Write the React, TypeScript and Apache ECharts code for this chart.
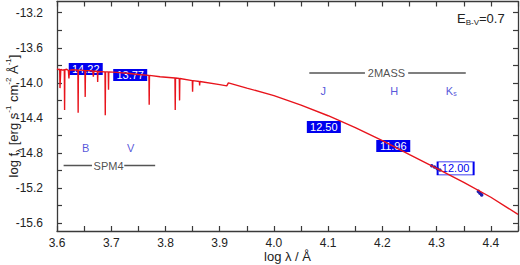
import React, { useEffect, useRef } from "react";
import * as echarts from "echarts";

// Model spectrum (log lambda, log f_lambda), incl. absorption lines
const specLambda = [
  3.6, 3.603, 3.605, 3.6055, 3.607, 3.61, 3.6135, 3.614, 3.6145, 3.618, 3.621, 3.622, 3.623, 3.63,
  3.6385, 3.639, 3.6395, 3.645, 3.6515, 3.652, 3.6525, 3.66, 3.666, 3.667, 3.668, 3.6745, 3.675,
  3.6755, 3.6885, 3.689, 3.6895, 3.6945, 3.695, 3.6955, 3.71, 3.73, 3.75, 3.7695, 3.77, 3.7705,
  3.79, 3.8175, 3.818, 3.8185, 3.8255, 3.826, 3.8265, 3.8495, 3.85, 3.8505, 3.8625, 3.863, 3.8635,
  3.9, 3.913, 3.916, 3.95, 4.0, 4.05, 4.1, 4.15, 4.2, 4.25, 4.3, 4.35, 4.4, 4.45,
];
const specFlux = [
  -13.84, -13.85, -13.845, -14.06, -13.845, -13.855, -13.85, -14.31, -13.85, -13.845, -13.86, -13.95,
  -13.855, -13.85, -13.855, -14.34, -13.855, -13.855, -13.86, -14.16, -13.86, -13.86, -13.865, -13.93,
  -13.865, -13.87, -13.99, -13.87, -13.875, -14.37, -13.875, -13.875, -14.08, -13.875, -13.88, -13.89,
  -13.905, -13.915, -14.25, -13.915, -13.93, -13.945, -14.31, -13.945, -13.95, -14.2, -13.95, -13.975,
  -14.1, -13.975, -13.985, -14.03, -13.985, -14.02, -14.035, -14.0, -14.06, -14.145, -14.255, -14.375,
  -14.51, -14.66, -14.82, -14.975, -15.135, -15.305, -15.5,
];

// Photometric magnitude boxes
const boxLambda = [3.653, 3.735, 4.092, 4.22];
const boxFlux = [-13.842, -13.91, -14.503, -14.719];
const boxText = ["14.22", "13.77", "12.50", "11.96"];
const openBoxLambda = [4.335];
const openBoxFlux = [-14.975];
const openBoxText = ["12.00"];

// Observed points (blue)
const obsLambda = [4.291, 4.296, 4.301, 4.306, 4.377, 4.38, 4.383];
const obsFlux = [-14.945, -14.96, -14.978, -14.995, -15.238, -15.258, -15.278];

// Filter names
const filterNames = ["B", "V", "J", "H", "{n|K}{s|s}"];
const filterLambda = [3.653, 3.736, 4.091, 4.222, 4.327];
const filterFlux = [-14.745, -14.745, -14.089, -14.089, -14.089];

// Survey ranges
const spmLeft = [3.6122, 3.6645];
const spmRight = [3.724, 3.781];
const spmLevel = -14.944;
const spmLabelLambda = 3.695;
const massLeft = [4.0652, 4.1678];
const massRight = [4.2475, 4.3537];
const massLevel = -13.888;
const massLabelLambda = 4.2075;

const xTicks = [3.6, 3.65, 3.7, 3.75, 3.8, 3.85, 3.9, 3.95, 4.0, 4.05, 4.1, 4.15, 4.2, 4.25, 4.3, 4.35, 4.4, 4.45];
const xLabels = [3.6, 3.7, 3.8, 3.9, 4.0, 4.1, 4.2, 4.3, 4.4];
const yTicks = [-15.6, -15.4, -15.2, -15.0, -14.8, -14.6, -14.4, -14.2, -14.0, -13.8, -13.6, -13.4, -13.2];
const yLabels = [-15.6, -15.2, -14.8, -14.4, -14.0, -13.6, -13.2];

const FONT = "Liberation Sans";
const AXC = "#3a3a3a";
const RED = "#e8141c";
const BLUE = "#0000ee";
const LBLUE = "#2a2ad0";

export default function App() {
  const ref = useRef<HTMLDivElement>(null);
  useEffect(() => {
    document.body.style.margin = "0";
    const chart = echarts.init(ref.current!, undefined, { renderer: "svg" });
    const axisCommon = {
      axisLine: { show: true, lineStyle: { color: AXC, width: 1.3 } },
      splitLine: { show: false },
    };
    const xBase = { type: "value", min: 3.6, max: 4.45, ...axisCommon };
    const yBase = { type: "value", min: -15.69, max: -13.072, ...axisCommon };
    const tick = (vals: number[]) => ({
      show: true,
      inside: true,
      length: 5,
      customValues: vals,
      lineStyle: { color: AXC, width: 1.2 },
    });
    const labelSeries = (names: string[], lx: number[], ly: number[], color: string, size: number, id: string) => ({
      type: "scatter",
      id,
      symbol: "rect",
      symbolSize: 1,
      itemStyle: { color: "rgba(0,0,0,0)" },
      silent: true,
      z: 5,
      data: names.map((n, i) => ({ name: n, value: [lx[i], ly[i]] })),
      label: {
        show: true,
        position: "inside",
        formatter: "{b}",
        color,
        fontSize: size,
        fontFamily: FONT,
        rich: {
          n: { color, fontSize: size, fontFamily: FONT },
          s: { color, fontSize: 7, fontFamily: FONT, padding: [6, 0, 0, 0] },
        },
      },
    });
    const seg = (xs: number[], level: number, id: string) => ({
      type: "line",
      id,
      symbol: "none",
      silent: true,
      lineStyle: { color: "#555", width: 1.5 },
      data: xs.map((x) => [x, level]),
    });
    const option: any = {
      animation: false,
      grid: { left: 57, right: 2, top: 1.5, bottom: 34, containLabel: false, outerBoundsMode: "none" },
      xAxis: [
        {
          ...xBase,
          position: "bottom",
          axisTick: tick(xTicks),
          axisLabel: {
            customValues: xLabels,
            formatter: (v: number) => v.toFixed(1),
            color: "#222",
            fontSize: 12,
            fontFamily: FONT,
            margin: 6,
          },
        },
        { ...xBase, position: "top", axisTick: tick(xTicks), axisLabel: { show: false } },
      ],
      yAxis: [
        {
          ...yBase,
          position: "left",
          axisTick: tick(yTicks),
          axisLabel: {
            customValues: yLabels,
            formatter: (v: number) => v.toFixed(1),
            color: "#222",
            fontSize: 12,
            fontFamily: FONT,
            margin: 14,
          },
        },
        { ...yBase, position: "right", axisTick: tick(yTicks), axisLabel: { show: false } },
      ],
      graphic: [
        {
          type: "text",
          x: 287.5,
          y: 256,
          style: {
            text: "log λ / Å",
            align: "center",
            verticalAlign: "middle",
            fontSize: 13,
            fontFamily: FONT,
            fill: "#222",
          },
        },
        {
          type: "text",
          x: 13,
          y: 116,
          rotation: Math.PI / 2,
          style: {
            text: "{a|log f}{b|λ}{a| [erg s}{c|-1}{a| cm}{c|-2}{a| Å}{c|-1}{a|]}",
            align: "center",
            verticalAlign: "middle",
            rich: {
              a: { fontSize: 13, fontFamily: FONT, fill: "#222", lineHeight: 18 },
              b: { fontSize: 8, fontFamily: FONT, fill: "#222", verticalAlign: "bottom", lineHeight: 12 },
              c: { fontSize: 8, fontFamily: FONT, fill: "#222", verticalAlign: "top", lineHeight: 12 },
            },
          },
        },
        {
          type: "text",
          left: 457,
          top: 12,
          style: {
            text: "{e|E}{s|B-V}{e|=0.7}",
            rich: {
              e: { fontSize: 13, fontFamily: FONT, fill: "#222" },
              s: { fontSize: 8, fontFamily: FONT, fill: "#222", padding: [7, 0, 0, 0] },
            },
          },
        },
      ],
      series: [
        seg(spmLeft, spmLevel, "spmL"),
        seg(spmRight, spmLevel, "spmR"),
        seg(massLeft, massLevel, "massL"),
        seg(massRight, massLevel, "massR"),
        labelSeries(["SPM4"], [spmLabelLambda], [spmLevel], "#222", 11, "spmT"),
        labelSeries(["2MASS"], [massLabelLambda], [massLevel], "#222", 11, "massT"),
        labelSeries(filterNames, filterLambda, filterFlux, LBLUE, 11, "filters"),
        {
          type: "scatter",
          id: "boxes",
          symbol: "rect",
          symbolSize: [34, 12],
          itemStyle: { color: BLUE, opacity: 1 },
          silent: true,
          data: boxText.map((t, i) => ({ name: t, value: [boxLambda[i], boxFlux[i]] })),
          label: { show: true, position: "inside", formatter: "{b}", color: "#fff", fontSize: 11, fontFamily: FONT },
        },
        {
          type: "scatter",
          id: "openBoxes",
          symbol: "rect",
          symbolSize: [36, 13],
          itemStyle: { color: "#fff", borderColor: BLUE, borderWidth: 1.2, opacity: 1 },
          silent: true,
          data: openBoxText.map((t, i) => ({ name: t, value: [openBoxLambda[i], openBoxFlux[i]] })),
          label: { show: true, position: "inside", formatter: "{b}", color: BLUE, fontSize: 11, fontFamily: FONT },
        },
        {
          type: "line",
          id: "spectrum",
          symbol: "none",
          silent: true,
          lineStyle: { color: RED, width: 1.4 },
          data: specLambda.map((l, i) => [l, specFlux[i]]),
        },
        {
          type: "scatter",
          id: "obs",
          symbol: "circle",
          symbolSize: 3.5,
          itemStyle: { color: "#2020b0", opacity: 1 },
          silent: true,
          data: obsLambda.map((l, i) => [l, obsFlux[i]]),
        },
      ],
    };
    chart.setOption(option);
    return () => chart.dispose();
  }, []);
  return <div ref={ref} style={{ width: 520, height: 265 }} />;
}
